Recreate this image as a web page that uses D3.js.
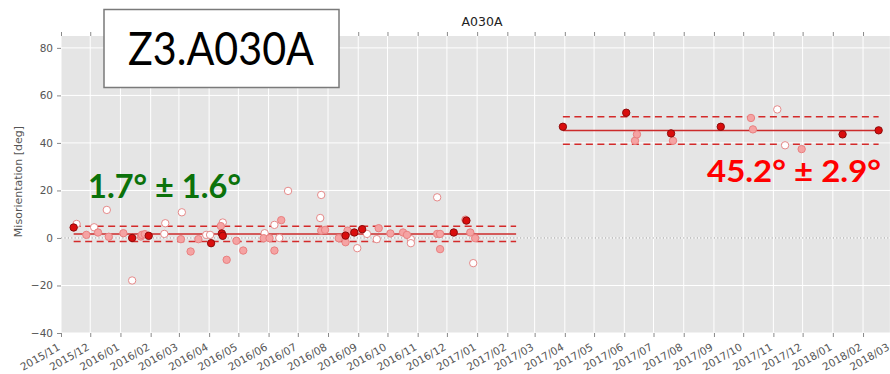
<!DOCTYPE html>
<html>
<head>
<meta charset="utf-8">
<script src="https://cdn.jsdelivr.net/npm/d3@7"></script>
<style>
  html, body { margin: 0; padding: 0; background: #ffffff; }
  svg { display: block; }
</style>
</head>
<body>
<svg id="chart" width="890" height="374"></svg>
<script>
// ---- data -------------------------------------------------------------
const chartTitle = "A030A";
const boxTitle = "Z3.A030A";
const yLabel = "Misorientation [deg]";

// monthly x ticks
const monthTicks = [
  "2015/11","2015/12","2016/01","2016/02","2016/03","2016/04","2016/05","2016/06",
  "2016/07","2016/08","2016/09","2016/10","2016/11","2016/12","2017/01","2017/02",
  "2017/03","2017/04","2017/05","2017/06","2017/07","2017/08","2017/09","2017/10",
  "2017/11","2017/12","2018/01","2018/02","2018/03"
];
const yTicks = [-40, -20, 0, 20, 40, 60, 80];

// first period (Nov 2015 - Dec 2016)
const earlyDates = [
  "2015-11-14","2015-11-17","2015-11-27","2015-12-05","2015-12-09","2015-12-18","2015-12-20",
  "2016-01-04","2016-01-13","2016-01-13","2016-01-22","2016-01-23","2016-01-26","2016-01-30",
  "2016-02-15","2016-02-16","2016-03-03","2016-03-04","2016-03-13","2016-03-21","2016-03-29",
  "2016-04-02","2016-04-03","2016-04-13","2016-04-14","2016-04-15","2016-04-15","2016-04-19",
  "2016-04-29","2016-05-06","2016-05-27","2016-05-28","2016-06-02","2016-06-07","2016-06-07",
  "2016-06-12","2016-06-14","2016-06-21","2016-07-24","2016-07-25","2016-07-25","2016-07-29",
  "2016-08-12","2016-08-19","2016-08-19","2016-08-21","2016-08-28","2016-08-31","2016-09-05",
  "2016-09-10","2016-09-20","2016-09-22","2016-10-04","2016-10-17","2016-10-21","2016-10-25",
  "2016-10-25","2016-11-21","2016-11-21","2016-11-24","2016-11-24","2016-12-08","2016-12-20",
  "2016-12-21","2016-12-25","2016-12-28","2016-12-30"
];
const earlyValues = [
  4.4, 5.9, 1.3, 4.5, 2.3, 11.8, 0.5,
  2.0, -17.9, 0.0, 0.6, 1.3, 1.6, 0.9,
  1.7, 6.2, -0.5, 10.8, -5.7, -0.5, 1.3,
  1.3, -2.2, 5.0, 1.9, 6.5, 0.9, -9.2,
  -1.2, -5.3, -0.1, 2.0, -0.1, -5.3, 5.5,
  0.0, 7.5, 19.8, 8.4, 18.1, 3.1, 3.4,
  -0.1, 1.0, -1.8, 3.1, 2.3, -4.3, 3.7,
  1.7, -0.5, 4.1, 1.9, 2.3, 1.3, -0.5,
  -2.2, 17.1, 1.7, 1.7, -4.7, 2.3, 7.7,
  7.3, 2.3, -10.6, -0.1
];
// d = dark filled, p = pale filled, w = open
const earlyKinds = [
  "d","w","p","w","p","w","p",
  "p","w","d","p","p","p","d",
  "w","w","p","w","p","p","w",
  "w","d","p","d","w","d","p",
  "p","p","p","w","p","p","w",
  "w","p","w","w","w","p","p",
  "p","d","p","p","d","w","d",
  "w","w","p","p","p","p","w",
  "w","w","p","p","p","d","p",
  "d","p","w","p"
];

// second period (Mar 2017 - Feb 2018)
const lateDates = [
  "2017-03-30","2017-06-03","2017-06-12","2017-06-14","2017-07-19","2017-07-21","2017-09-08",
  "2017-10-09","2017-10-11","2017-11-05","2017-11-13","2017-11-30","2018-01-11","2018-02-17"
];
const lateValues = [46.8, 52.7, 40.9, 43.6, 44.0, 40.9, 46.8, 50.5, 45.7, 54.1, 39.0, 37.4, 43.6, 45.3];
const lateKinds  = ["d","d","p","p","d","p","d","p","p","w","w","p","d","d"];

// summary statistics per period (mean, std) and the span each band covers
const periodMeans = [1.7, 45.2];
const periodStds  = [1.6, 2.9];
const periodStart = ["2015-11-14", "2017-03-30"];
const periodEnd   = ["2017-02-10", "2018-02-17"];
const periodLabels = ["1.7° ± 1.6°", "45.2° ± 2.9°"];

// ---- drawing ----------------------------------------------------------
const parse = d3.timeParse("%Y-%m-%d");
const parseMonth = d3.timeParse("%Y/%m");

const svg = d3.select("#chart");
const plot = { left: 61, right: 903, top: 36, bottom: 333 };

const x = d3.scaleTime()
  .domain([parse("2015-11-01"), parse("2018-03-14")])
  .range([plot.left, plot.right]);
const y = d3.scaleLinear()
  .domain([-40, 85])
  .range([plot.bottom, plot.top]);

// panel background
svg.append("rect")
  .attr("x", plot.left).attr("y", plot.top)
  .attr("width", plot.right - plot.left).attr("height", plot.bottom - plot.top)
  .attr("fill", "#e5e5e5");

const tickDates = monthTicks.map(parseMonth);

// grid
const grid = svg.append("g");
grid.selectAll("line.v").data(tickDates).join("line")
  .attr("x1", d => x(d)).attr("x2", d => x(d))
  .attr("y1", plot.top).attr("y2", plot.bottom)
  .attr("stroke", "#ffffff").attr("stroke-width", 1);
grid.selectAll("line.h").data(yTicks).join("line")
  .attr("x1", plot.left).attr("x2", plot.right)
  .attr("y1", d => y(d)).attr("y2", d => y(d))
  .attr("stroke", "#ffffff").attr("stroke-width", 1);

// zero reference
svg.append("line")
  .attr("x1", plot.left).attr("x2", plot.right)
  .attr("y1", y(0)).attr("y2", y(0))
  .attr("stroke", "#9a9a9a").attr("stroke-width", 1)
  .attr("stroke-dasharray", "1.2,2.2");

// axes
const tickColor = "#8a8a8a";
const labelColor = "#555555";

const xAxisBottom = svg.append("g")
  .attr("transform", `translate(0,${plot.bottom})`)
  .call(d3.axisBottom(x).tickValues(tickDates).tickFormat(d3.timeFormat("%Y/%m")).tickSize(4).tickPadding(3));
xAxisBottom.select(".domain").remove();
xAxisBottom.selectAll(".tick line").attr("stroke", tickColor);
xAxisBottom.selectAll(".tick text")
  .attr("font-family", "DejaVu Sans, sans-serif")
  .attr("font-size", 10.5)
  .attr("fill", labelColor)
  .attr("text-anchor", "end")
  .attr("dy", "0.35em")
  .attr("transform", "translate(-6,7) rotate(-30)");

const xAxisTop = svg.append("g")
  .attr("transform", `translate(0,${plot.top})`)
  .call(d3.axisTop(x).tickValues(tickDates).tickFormat("").tickSize(4));
xAxisTop.select(".domain").remove();
xAxisTop.selectAll(".tick line").attr("stroke", tickColor);

const yAxis = svg.append("g")
  .attr("transform", `translate(${plot.left},0)`)
  .call(d3.axisLeft(y).tickValues(yTicks).tickFormat(d3.format("d")).tickSize(4).tickPadding(4));
yAxis.select(".domain").remove();
yAxis.selectAll(".tick line").attr("stroke", tickColor);
yAxis.selectAll(".tick text")
  .attr("font-family", "DejaVu Sans, sans-serif")
  .attr("font-size", 10.5)
  .attr("fill", labelColor)
  .text(d => d < 0 ? "\u2212" + Math.abs(d) : d);

svg.append("text")
  .attr("transform", `translate(22,${(plot.top + plot.bottom) / 2 - 3}) rotate(-90)`)
  .attr("text-anchor", "middle")
  .attr("font-family", "DejaVu Sans, sans-serif")
  .attr("font-size", 11)
  .attr("fill", labelColor)
  .text(yLabel);

svg.append("text")
  .attr("x", (plot.left + plot.right) / 2).attr("y", 26)
  .attr("text-anchor", "middle")
  .attr("font-family", "DejaVu Sans, sans-serif")
  .attr("font-size", 12.5)
  .attr("fill", "#222222")
  .text(chartTitle);

// mean and ±2σ bands
const bandColor = "#d42a2a";
periodMeans.forEach((m, i) => {
  const x1 = x(parse(periodStart[i])), x2 = x(parse(periodEnd[i]));
  const g = svg.append("g");
  g.append("line")
    .attr("x1", x1).attr("x2", x2).attr("y1", y(m)).attr("y2", y(m))
    .attr("stroke", "#cc2b2b").attr("stroke-width", 1.5);
  [m + 2 * periodStds[i], m - 2 * periodStds[i]].forEach(v => {
    g.append("line")
      .attr("x1", x1).attr("x2", x2).attr("y1", y(v)).attr("y2", y(v))
      .attr("stroke", bandColor).attr("stroke-width", 1.5)
      .attr("stroke-dasharray", "7,4.5");
  });
});

// measurements
const styles = {
  w: { fill: "#ffffff", stroke: "#e58a8a" },
  p: { fill: "#f5a3a3", stroke: "#e98080" },
  d: { fill: "#d90d0d", stroke: "#8e0b0b" }
};
const points = [];
earlyDates.forEach((d, i) => points.push({ date: parse(d), value: earlyValues[i], kind: earlyKinds[i] }));
lateDates.forEach((d, i) => points.push({ date: parse(d), value: lateValues[i], kind: lateKinds[i] }));
const order = { w: 0, p: 1, d: 2 };
points.sort((a, b) => order[a.kind] - order[b.kind]);

svg.append("g").selectAll("circle").data(points).join("circle")
  .attr("cx", d => x(d.date))
  .attr("cy", d => y(d.value))
  .attr("r", 3.7)
  .attr("fill", d => styles[d.kind].fill)
  .attr("stroke", d => styles[d.kind].stroke)
  .attr("stroke-width", 1);

// period summary labels
svg.append("text")
  .attr("x", 88).attr("y", 198)
  .attr("font-family", "Lato, 'Open Sans', sans-serif")
  .attr("font-weight", "bold")
  .attr("font-size", 32)
  .attr("fill", "#0b720b")
  .attr("textLength", 153).attr("lengthAdjust", "spacingAndGlyphs")
  .text(periodLabels[0]);

svg.append("text")
  .attr("x", 707).attr("y", 182)
  .attr("font-family", "Lato, 'Open Sans', sans-serif")
  .attr("font-weight", "bold")
  .attr("font-size", 30)
  .attr("fill", "#ff0000")
  .attr("textLength", 174).attr("lengthAdjust", "spacingAndGlyphs")
  .text(periodLabels[1]);

// boxed heading
svg.append("rect")
  .attr("x", 104).attr("y", 9.5).attr("width", 235).attr("height", 78)
  .attr("fill", "#ffffff").attr("stroke", "#7a7a7a").attr("stroke-width", 1.5);
svg.append("text")
  .attr("x", 128).attr("y", 65)
  .attr("font-family", "Lato, 'Open Sans', sans-serif")
  .attr("font-size", 46)
  .attr("fill", "#000000")
  .attr("textLength", 186).attr("lengthAdjust", "spacingAndGlyphs")
  .text(boxTitle);
</script>
</body>
</html>
